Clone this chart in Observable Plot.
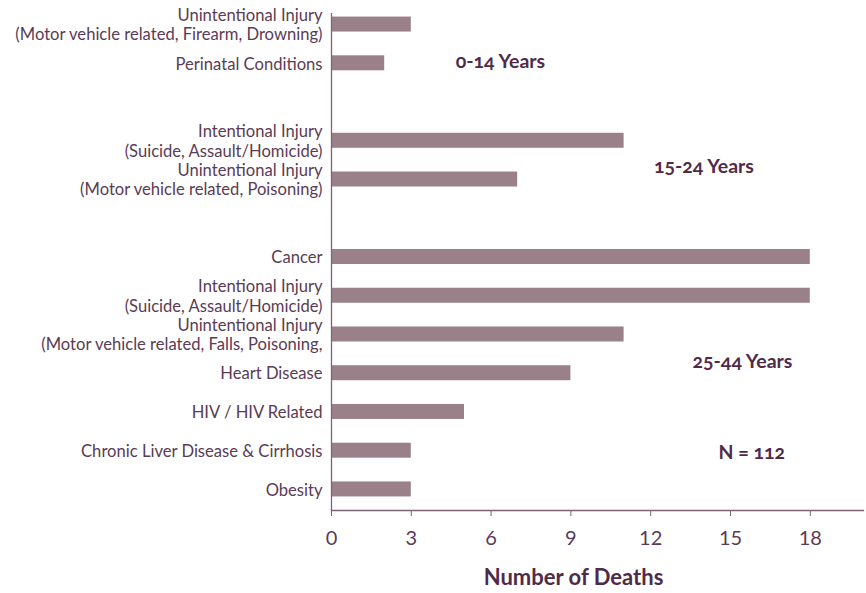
<!DOCTYPE html>
<html>
<head>
<meta charset="utf-8">
<script src="https://cdn.jsdelivr.net/npm/d3@7"></script>
<script src="https://cdn.jsdelivr.net/npm/@observablehq/plot@0.6"></script>
<style>
  body { margin: 0; background: #fff; }
  #chart svg { font-family: Lato, "Open Sans", sans-serif; font-variant-numeric: oldstyle-nums; }
</style>
</head>
<body>
<div id="chart"></div>
<script>
// Age groups and causes (top to bottom)
const groups = ["0-14", "0-14", "15-24", "15-24", "25-44", "25-44", "25-44", "25-44", "25-44", "25-44", "25-44"];
const causes = [
  "Unintentional Injury\n(Motor vehicle related, Firearm, Drowning)",
  "Perinatal Conditions",
  "Intentional Injury\n(Suicide, Assault/Homicide)",
  "Unintentional Injury\n(Motor vehicle related, Poisoning)",
  "Cancer",
  "Intentional Injury\n(Suicide, Assault/Homicide)",
  "Unintentional Injury\n(Motor vehicle related, Falls, Poisoning,",
  "Heart Disease",
  "HIV / HIV Related",
  "Chronic Liver Disease & Cirrhosis",
  "Obesity"
];
const deaths = [3, 2, 11, 7, 18, 18, 11, 9, 5, 3, 3];
const xTicks = [0, 3, 6, 9, 12, 15, 18];

// Group annotations
const noteText = ["0-14 Years", "15-24 Years", "25-44 Years", "N = 112"];
const noteX = [6.35, 14.0, 15.45, 15.8];
const noteRow = [1, 3, 7, 9];
const noteDy = [-2, -13, -11, 2];

const data = causes.map((c, i) => ({key: groups[i] + "|" + i, label: c, value: deaths[i], group: groups[i]}));
// band domain with blank rows between age groups
const domain = [];
data.forEach((d, i) => {
  if (i > 0 && data[i - 1].group !== d.group) domain.push("gap" + i);
  domain.push(d.key);
});
const labelOf = new Map(data.map(d => [d.key, d.label]));
const notes = noteText.map((t, i) => ({text: t, x: noteX[i], y: data[noteRow[i]].key, dy: noteDy[i]}));

const textColor = "#5b3b55";
const darkColor = "#4f2b49";
const barColor = "#9a8189";
const axisColor = "#7d6378";

const chart = Plot.plot({
  width: 866,
  height: 593,
  marginLeft: 331,
  marginRight: 3,
  marginTop: 3,
  marginBottom: 83,
  x: {domain: [0, 20]},
  y: {domain, paddingInner: 0.613, paddingOuter: 0.35, round: false},
  marks: [
    Plot.barX(data, {x: "value", y: "key", fill: barColor}),
    Plot.ruleX([0], {stroke: axisColor, strokeWidth: 1.3, insetTop: 10}),
    Plot.frame({anchor: "bottom", stroke: axisColor, strokeWidth: 1.3, strokeOpacity: 1}),
    Plot.axisY({
      tickSize: 0, tickPadding: 9, fontSize: 16.6, lineHeight: 1.17,
      tickFormat: k => labelOf.get(k) || "", fill: textColor, label: null
    }),
    Plot.axisX({
      ticks: xTicks, tickSize: 6, tickPadding: 14, fontSize: 20,
      stroke: axisColor, fill: textColor, label: null, tickFormat: d => String(d)
    }),
    ...notes.map(n => Plot.text([n], {x: "x", y: "y", text: "text", dy: n.dy, fontSize: 19.5, fontWeight: "bold", fill: darkColor})),
    Plot.text(["Number of Deaths"], {frameAnchor: "bottom", dx: -24, dy: 74, fontSize: 22, fontWeight: "bold", fill: darkColor})
  ]
});
document.getElementById("chart").append(chart);
</script>
</body>
</html>
